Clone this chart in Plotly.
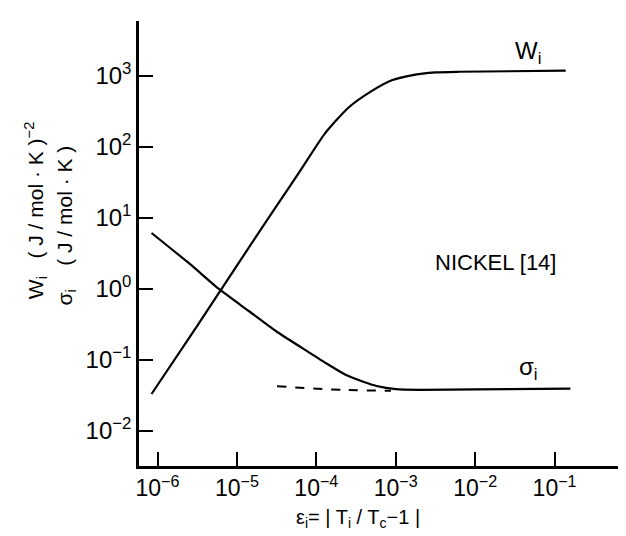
import plotly.graph_objects as go

# W_i curve
eps_W = [8.41e-7, 3.16e-6, 1.0e-5, 3.16e-5, 6.31e-5, 1.26e-4, 2.51e-4,
         5.01e-4, 8.91e-4, 1.58e-3, 3.16e-3, 6.31e-3, 1.38e-1]
W_vals = [0.0332, 0.302, 2.14, 14.8, 46.8, 151, 355, 617, 871, 1023, 1122, 1148, 1189]

# sigma_i curve
eps_S = [8.41e-7, 2.51e-6, 6.10e-6, 1.41e-5, 3.09e-5, 6.59e-5, 1.26e-4, 2.30e-4,
         3.98e-4, 5.74e-4, 1.0e-3, 2.0e-3, 1.0e-2, 1.58e-1]
S_vals = [6.15, 2.29, 0.977, 0.490, 0.256, 0.148, 0.0933, 0.0625,
          0.049, 0.0431, 0.0389, 0.0380, 0.0385, 0.0394]

# dashed sigma branch
eps_D = [3.2e-5, 2.3e-4, 8.7e-4]
D_vals = [0.0427, 0.0378, 0.037]

x_tickvals = [1e-6, 1e-5, 1e-4, 1e-3, 1e-2, 1e-1]
x_ticktext = ["10<sup>−6</sup>", "10<sup>−5</sup>", "10<sup>−4</sup>",
              "10<sup>−3</sup>", "10<sup>−2</sup>", "10<sup>−1</sup>"]
y_tickvals = [1e-2, 1e-1, 1e0, 1e1, 1e2, 1e3]
y_ticktext = ["10<sup>−2</sup>", "10<sup>−1</sup>", "10<sup>0</sup>",
              "10<sup>1</sup>", "10<sup>2</sup>", "10<sup>3</sup>"]

FONT = "Liberation Sans, Arial, sans-serif"

fig = go.Figure()
fig.add_trace(go.Scatter(x=eps_W, y=W_vals, mode="lines",
                         line=dict(color="black", width=2.2, shape="spline", smoothing=0.6)))
fig.add_trace(go.Scatter(x=eps_S, y=S_vals, mode="lines",
                         line=dict(color="black", width=2.2, shape="spline", smoothing=0.6)))
fig.add_trace(go.Scatter(x=eps_D, y=D_vals, mode="lines",
                         line=dict(color="black", width=2, dash="dash", shape="spline")))

fig.update_layout(
    width=626, height=536,
    margin=dict(l=131, r=0, t=13, b=78),
    paper_bgcolor="white", plot_bgcolor="white",
    showlegend=False,
    font=dict(family=FONT, color="black", size=22),
)
fig.update_xaxes(type="log", range=[-6.233, 0.0],
                 tickvals=x_tickvals, ticktext=x_ticktext,
                 ticks="inside", ticklen=14, tickwidth=2, tickcolor="black",
                 showline=True, linecolor="black", linewidth=2.5,
                 showgrid=False, zeroline=False,
                 tickfont=dict(size=23, family=FONT))
fig.update_yaxes(type="log", range=[-2.493, 3.775],
                 tickvals=y_tickvals, ticktext=y_ticktext,
                 ticks="inside", ticklen=14, tickwidth=2, tickcolor="black",
                 showline=True, linecolor="black", linewidth=2.5,
                 showgrid=False, zeroline=False,
                 tickfont=dict(size=24, family=FONT))

fig.add_annotation(x=-1.33, y=3.33, xref="x", yref="y", text="W<sub>i</sub>",
                   xanchor="center", yanchor="middle",
                   showarrow=False, font=dict(size=24, family=FONT))
fig.add_annotation(x=-1.33, y=-1.12, xref="x", yref="y", text="σ<sub>i</sub>",
                   xanchor="center", yanchor="middle",
                   showarrow=False, font=dict(size=24, family=FONT))
fig.add_annotation(x=-1.744, y=0.38, xref="x", yref="y", text="NICKEL [14]",
                   xanchor="center", yanchor="middle",
                   showarrow=False, font=dict(size=22, family=FONT))
fig.add_annotation(x=0.442, y=-0.118, xref="paper", yref="paper",
                   xanchor="center", yanchor="middle",
                   text="ε<sub>i</sub>= | T<sub>i</sub> / T<sub>c</sub>−1 |",
                   showarrow=False, font=dict(size=20, family=FONT))
fig.add_annotation(x=-0.21, y=0.575, xref="paper", yref="paper", textangle=-90,
                   xanchor="center", yanchor="middle",
                   text="W<sub>i</sub>   ( J / mol · K )<sup>−2</sup>",
                   showarrow=False, font=dict(size=21, family=FONT))
fig.add_annotation(x=-0.148, y=0.54, xref="paper", yref="paper", textangle=-90,
                   xanchor="center", yanchor="middle",
                   text="σ<sub>i</sub>    ( J / mol · K )",
                   showarrow=False, font=dict(size=21, family=FONT))

fig.write_html("out.html")
